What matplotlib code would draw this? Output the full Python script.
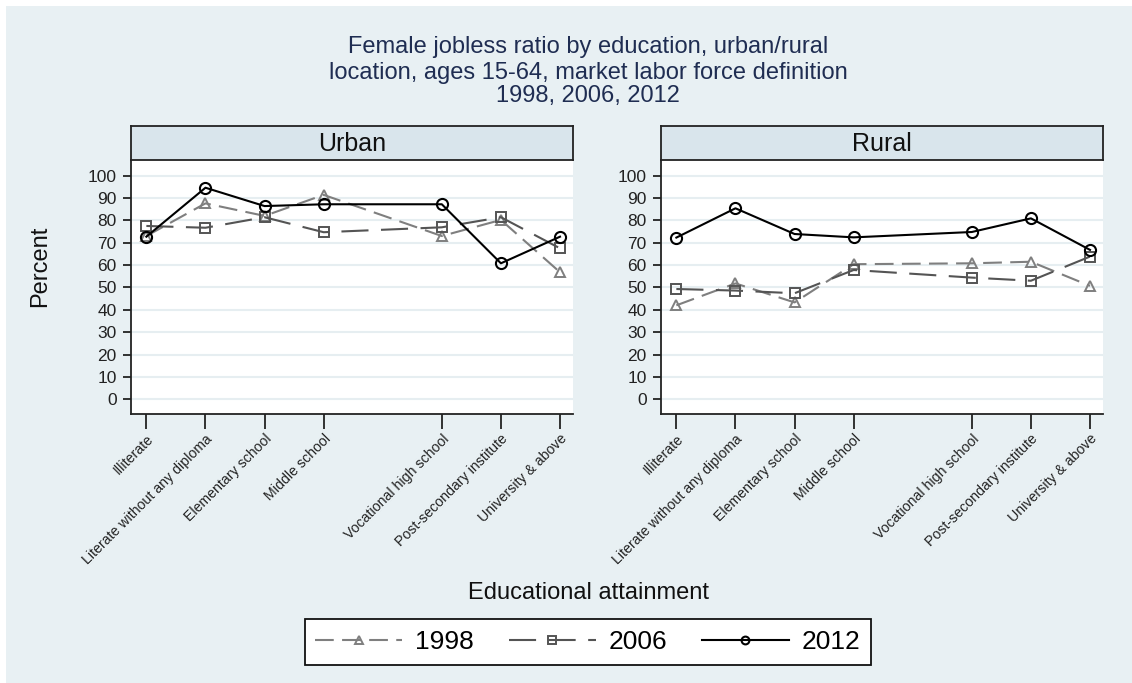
import numpy as np
import matplotlib.pyplot as plt
import matplotlib.patches as patches

plt.rcParams['font.family'] = ['Liberation Sans', 'DejaVu Sans']

categories = ['Illiterate', 'Literate without any diploma', 'Elementary school',
              'Middle school', 'Vocational high school', 'Post-secondary institute',
              'University & above']
x_pos = [1, 2, 3, 4, 6, 7, 8]

urban_1998 = [73.0, 87.6, 82.0, 91.4, 73.0, 80.2, 56.8]
urban_2006 = [77.5, 76.7, 81.4, 74.7, 76.9, 81.4, 67.5]
urban_2012 = [72.7, 94.6, 86.4, 87.2, 87.2, 60.8, 72.7]

rural_1998 = [42.0, 51.8, 43.3, 60.4, 60.8, 61.5, 50.7]
rural_2006 = [49.3, 48.6, 47.4, 57.8, 54.4, 53.0, 63.8]
rural_2012 = [72.3, 85.4, 73.9, 72.4, 74.8, 80.9, 66.8]

bg = '#e8f0f3'
strip = '#d9e5ec'
W, H = 1132, 683

fig = plt.figure(figsize=(W / 100, H / 100), dpi=100, facecolor='white')
# outer background panel (thin white margin around)
fig.patches.append(patches.Rectangle((6 / W, 0), 1 - 6 / W, 1 - 6 / H,
                                     transform=fig.transFigure, facecolor=bg,
                                     edgecolor='none', zorder=-10))

title_lines = ['Female jobless ratio by education, urban/rural',
               'location, ages 15-64, market labor force definition',
               '1998, 2006, 2012']
title_y = [47.5, 72.5, 96]
for t, ty in zip(title_lines, title_y):
    fig.text(588 / W, 1 - ty / H, t, ha='center', va='center',
             fontsize=17, color='#1f2d52')

panels = [('Urban', 131, 573, urban_1998, urban_2006, urban_2012),
          ('Rural', 661, 1103, rural_1998, rural_2006, rural_2012)]

top_px, bot_px, strip_top = 160, 414, 126
handles = None
for name, lpx, rpx, s98, s06, s12 in panels:
    ax = fig.add_axes([lpx / W, 1 - bot_px / H, (rpx - lpx) / W, (bot_px - top_px) / H])
    ax.set_facecolor('white')
    ax.set_xlim(0.74, 8.22)
    ax.set_ylim(-6.6, 107)
    ax.set_yticks(range(0, 101, 10))
    for v in range(0, 101, 10):
        ax.axhline(v, color='#e6eef1', lw=1.5, zorder=0)
    l1, = ax.plot(x_pos, s98, color='#7f7f7f', lw=1.5, dashes=(9, 4),
                  marker='^', ms=7.5, mfc='none', mec='#7f7f7f', mew=1.4, label='1998')
    l2, = ax.plot(x_pos, s06, color='#545454', lw=1.5, dashes=(13, 6),
                  marker='s', ms=7.5, mfc='none', mec='#545454', mew=1.4, label='2006')
    l3, = ax.plot(x_pos, s12, color='black', lw=1.5,
                  marker='o', ms=8, mfc='none', mec='black', mew=1.5, label='2012')
    handles = [l1, l2, l3]
    ax.set_xticks(x_pos)
    ax.set_xticklabels(categories, rotation=45, ha='right', rotation_mode='anchor',
                       fontsize=10.2, color='#222222')
    ax.tick_params(axis='x', length=10.8, width=1.3, color='#222222', pad=2)
    ax.tick_params(axis='y', length=5.8, width=1.3, color='#222222', labelsize=12.5,
                   labelcolor='#222222', pad=4.5)
    for sp in ['top', 'right']:
        ax.spines[sp].set_visible(False)
    for sp in ['left', 'bottom']:
        ax.spines[sp].set_linewidth(1.3)
        ax.spines[sp].set_color('#222222')
    # strip header
    sax = fig.add_axes([lpx / W, 1 - top_px / H, (rpx - lpx) / W, (top_px - strip_top) / H])
    sax.set_facecolor(strip)
    sax.set_xticks([])
    sax.set_yticks([])
    for sp in sax.spines.values():
        sp.set_linewidth(1.3)
        sp.set_color('#222222')
    sax.text(0.5, 0.48, name, ha='center', va='center', fontsize=18,
             transform=sax.transAxes, color='#111111')

fig.text(40 / W, 1 - 266 / H, 'Percent', rotation=90, ha='center', va='center',
         fontsize=17, color='#111111')
fig.text(589 / W, 1 - 593 / H, 'Educational attainment', ha='center', va='center',
         fontsize=17, color='#111111')

leg = fig.legend(handles, ['1998', '2006', '2012'], loc='center',
                 bbox_to_anchor=(588 / W, 1 - 642 / H), ncol=3, frameon=True,
                 fancybox=False, edgecolor='#111111', facecolor='white',
                 framealpha=1, fontsize=19,
                 handlelength=3.3, columnspacing=1.3, handletextpad=0.5,
                 borderpad=0.4, markerscale=0.7)
leg.get_frame().set_linewidth(1.3)

fig.savefig('out.png', dpi=100, facecolor=fig.get_facecolor())
